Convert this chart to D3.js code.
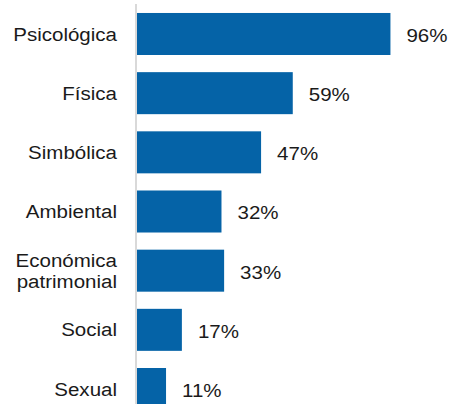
<!DOCTYPE html>
<html>
<head>
<meta charset="utf-8">
<script src="https://cdn.jsdelivr.net/npm/d3@7"></script>
<style>
  body { margin: 0; background: #fff; }
  text { font-family: "Liberation Sans", Arial, sans-serif; fill: #1a1a1a; }
</style>
</head>
<body>
<svg id="chart" width="449" height="404"></svg>
<script>
// categories (top to bottom) and their share in %
var categories = ["Psicológica", "Física", "Simbólica", "Ambiental", "Económica\npatrimonial", "Social", "Sexual"];
var values = [96, 59, 47, 32, 33, 17, 11];

var data = categories.map(function(c, i) { return { cat: c, value: values[i] }; });

var svg = d3.select("#chart");
var fontSize = 19;
var stretch = 1.08; // reference text is slightly wide

var x = d3.scaleLinear().domain([0, 100]).range([137, 401]);
var y = d3.scaleBand()
  .domain(categories)
  .range([4.4, 418.6])
  .paddingInner(0.29)
  .paddingOuter(0.145);

// bars
svg.selectAll("rect.bar").data(data).enter().append("rect")
  .attr("class", "bar")
  .attr("x", x(0))
  .attr("y", function(d) { return y(d.cat); })
  .attr("width", function(d) { return x(d.value) - x(0); })
  .attr("height", y.bandwidth())
  .attr("fill", "#0563a7");

// axis line
svg.append("line")
  .attr("x1", x(0) - 1).attr("x2", x(0) - 1)
  .attr("y1", 4).attr("y2", 404)
  .attr("stroke", "#d9d9d9")
  .attr("stroke-width", 2);

// category labels
svg.selectAll("text.cat").data(data).enter().append("text")
  .attr("class", "cat")
  .attr("text-anchor", "end")
  .attr("font-size", fontSize)
  .attr("transform", "translate(117,0) scale(" + stretch + ",1)")
  .each(function(d) {
    var lines = d.cat.split("\n");
    var cy = y(d.cat) + y.bandwidth() / 2;
    var lh = 21;
    var t = d3.select(this);
    lines.forEach(function(l, i) {
      t.append("tspan")
        .attr("x", 0)
        .attr("y", cy + (i - (lines.length - 1) / 2) * lh)
        .attr("dy", "0.35em")
        .text(l);
    });
  });

// value labels
svg.selectAll("text.val").data(data).enter().append("text")
  .attr("class", "val")
  .attr("font-size", fontSize)
  .attr("transform", function(d) {
    return "translate(" + (x(d.value) + 16) + "," + (y(d.cat) + y.bandwidth() / 2) + ") scale(" + stretch + ",1)";
  })
  .attr("dy", "0.42em")
  .text(function(d) { return d.value + "%"; });
</script>
</body>
</html>
